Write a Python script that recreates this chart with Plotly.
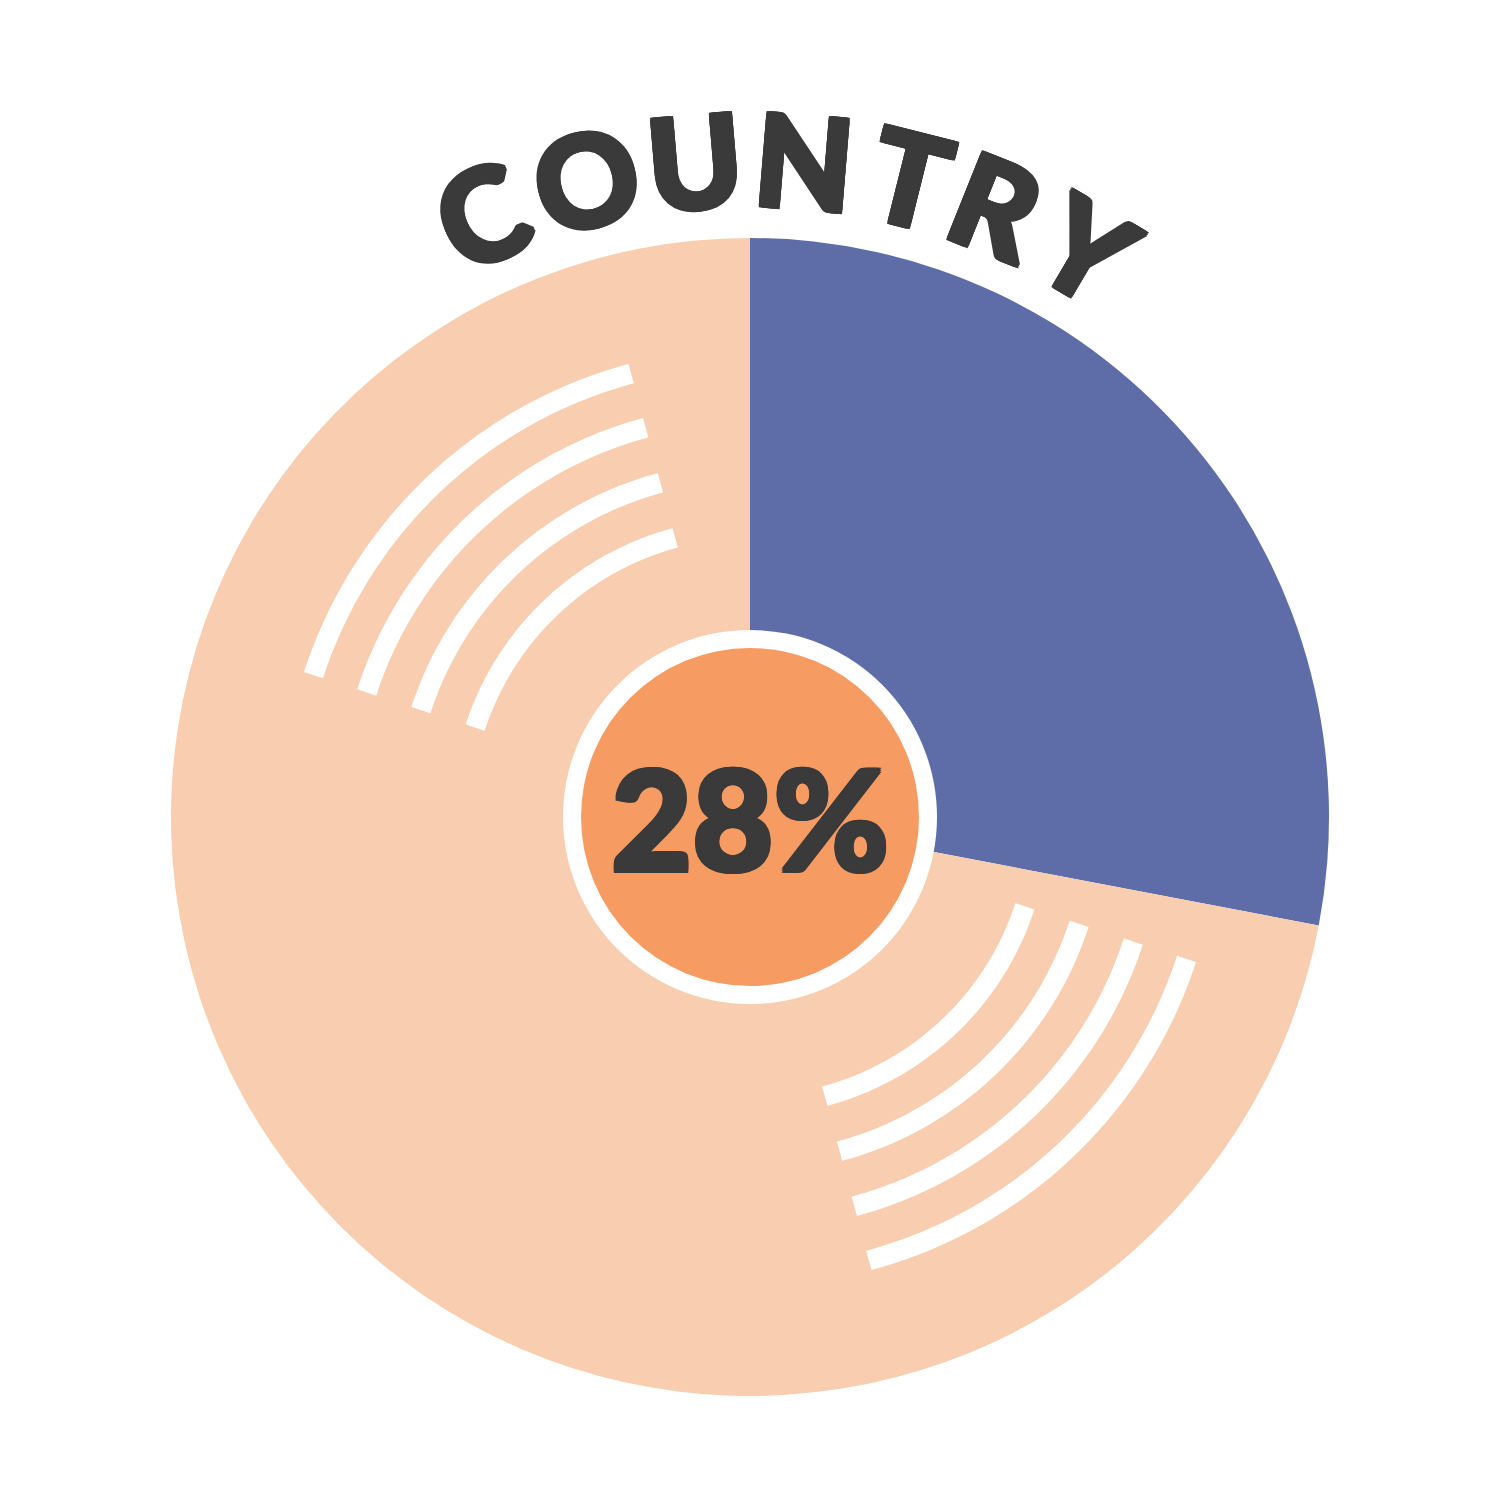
import math
import plotly.graph_objects as go

# ---- data ----
labels = ["Country", "Other"]
values = [28, 72]
slice_colors = ["#5E6DA8", "#F9CDB0"]
center_label = "28%"
title_text = "COUNTRY"
title_angles = [-23.9, -14.3, -4.8, 4.7, 14.0, 21.8, 30.5]   # degrees from vertical, per letter
groove_radii = [289, 346, 403, 459]                         # px
groove_spans = [(105, 162), (-75, -18)]                     # degrees (math convention)

# ---- layout constants (px) ----
W = H = 1501
OFF = 8  # page body margin
CX, CY, R = 750 - OFF, 817 - OFF, 579
RING_R, DISC_R = 187, 169
TITLE_R = 664
DARK = "#3A3A3A"
FONT = "Lato"
S = 2
THICK = ", ".join(f"{dx}px {dy}px 0 {DARK}" for dx, dy in
                  [(S, 0), (-S, 0), (0, S), (0, -S), (S, S), (-S, -S), (S, -S), (-S, S)])


def px(x):
    return x / W


def py(y):
    return (H - y) / H


fig = go.Figure()
fig.add_trace(go.Pie(
    labels=labels, values=values, sort=False, direction="clockwise", rotation=0,
    marker=dict(colors=slice_colors, line=dict(width=0)),
    textinfo="none", hoverinfo="none", showlegend=False,
    domain=dict(x=[px(CX - R), px(CX + R)], y=[py(CY + R), py(CY - R)]),
))

shapes = []
# grooves
for a0, a1 in groove_spans:
    for r in groove_radii:
        pts = []
        n = 60
        for i in range(n + 1):
            a = math.radians(a0 + (a1 - a0) * i / n)
            x = CX + r * math.cos(a)
            y = CY - r * math.sin(a)
            pts.append(f"{px(x):.6f},{py(y):.6f}")
        path = "M " + " L ".join(pts)
        shapes.append(dict(type="path", path=path, xref="paper", yref="paper",
                           line=dict(color="white", width=20), layer="above"))

# centre label disc
shapes.append(dict(type="circle", xref="paper", yref="paper",
                   x0=px(CX - RING_R), x1=px(CX + RING_R), y0=py(CY + RING_R), y1=py(CY - RING_R),
                   fillcolor="white", line=dict(width=0), layer="above"))
shapes.append(dict(type="circle", xref="paper", yref="paper",
                   x0=px(CX - DISC_R), x1=px(CX + DISC_R), y0=py(CY + DISC_R), y1=py(CY - DISC_R),
                   fillcolor="#F69C62", line=dict(width=0), layer="above"))

annotations = [dict(text=center_label, x=px(CX), y=py(CY), xref="paper", yref="paper",
                    showarrow=False, xanchor="center", yanchor="middle",
                    font=dict(family=FONT, size=140, color=DARK, weight=900, shadow=THICK))]

for ch, ang in zip(title_text, title_angles):
    a = math.radians(ang)
    x = CX + TITLE_R * math.sin(a)
    y = CY - TITLE_R * math.cos(a)
    annotations.append(dict(text=ch, x=px(x), y=py(y + 4), xref="paper", yref="paper",
                            showarrow=False, xanchor="center", yanchor="middle", textangle=ang,
                            font=dict(family=FONT, size=128, color=DARK, weight=900, shadow=THICK)))

fig.update_layout(width=W, height=H, margin=dict(l=0, r=0, t=0, b=0),
                  paper_bgcolor="white", plot_bgcolor="white",
                  shapes=shapes, annotations=annotations)

fig.write_html("out.html")
